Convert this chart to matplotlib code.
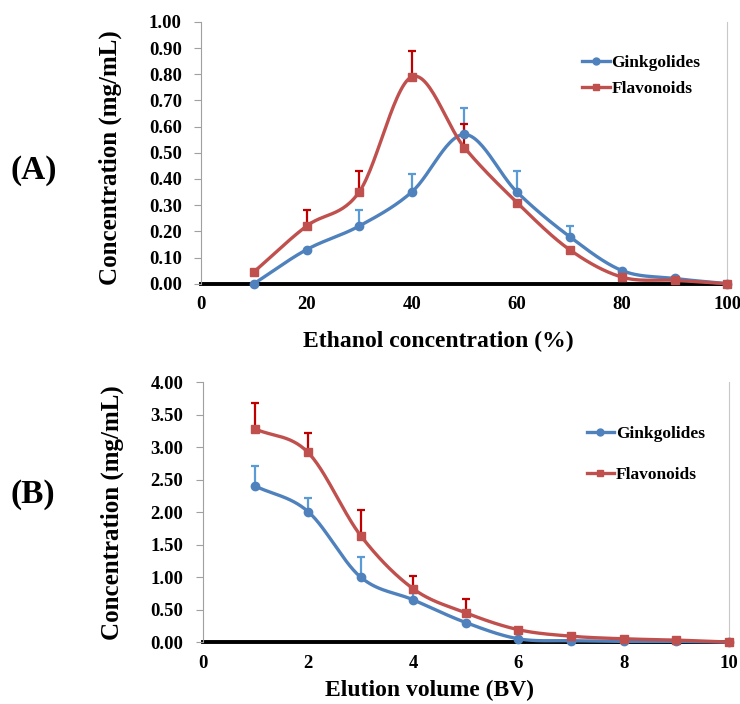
import numpy as np
import matplotlib.pyplot as plt

plt.rcParams['font.family'] = ['Liberation Serif', 'DejaVu Serif']
plt.rcParams['font.weight'] = 'bold'

# Panel A data
ethanol = [10, 20, 30, 40, 50, 60, 70, 80, 90, 100]
gink_a = [0.00, 0.13, 0.22, 0.35, 0.57, 0.35, 0.18, 0.05, 0.02, 0.00]
gink_a_err = [0.00, 0.00, 0.06, 0.07, 0.10, 0.08, 0.04, 0.00, 0.00, 0.00]
flav_a = [0.045, 0.22, 0.35, 0.79, 0.52, 0.31, 0.13, 0.025, 0.013, 0.00]
flav_a_err = [0.00, 0.06, 0.08, 0.10, 0.09, 0.00, 0.00, 0.00, 0.00, 0.00]

# Panel B data
bv = [1, 2, 3, 4, 5, 6, 7, 8, 9, 10]
gink_b = [2.40, 2.01, 1.00, 0.65, 0.30, 0.05, 0.02, 0.01, 0.01, 0.00]
gink_b_err = [0.31, 0.21, 0.31, 0.10, 0.00, 0.00, 0.00, 0.00, 0.00, 0.00]
flav_b = [3.28, 2.92, 1.64, 0.82, 0.45, 0.19, 0.09, 0.05, 0.03, 0.00]
flav_b_err = [0.40, 0.30, 0.40, 0.19, 0.21, 0.00, 0.00, 0.00, 0.00, 0.00]

BLUE = '#4F81BD'
RED = '#C0504D'
BLUE_ERR = '#5B9BD5'
RED_ERR = '#C00000'


def suave(x, y, n=30):
    # curva suavizada tipo Excel (Catmull-Rom)
    x = np.asarray(x, float)
    y = np.asarray(y, float)
    px = np.concatenate([[2 * x[0] - x[1]], x, [2 * x[-1] - x[-2]]])
    py = np.concatenate([[2 * y[0] - y[1]], y, [2 * y[-1] - y[-2]]])
    xs, ys = [], []
    t = np.linspace(0, 1, n)
    for i in range(1, len(px) - 2):
        for p, out in ((px, xs), (py, ys)):
            p0, p1, p2, p3 = p[i - 1], p[i], p[i + 1], p[i + 2]
            out.append(0.5 * (2 * p1 + (-p0 + p2) * t
                              + (2 * p0 - 5 * p1 + 4 * p2 - p3) * t**2
                              + (-p0 + 3 * p1 - 3 * p2 + p3) * t**3))
    return np.concatenate(xs), np.concatenate(ys)


def panel(ax, x, g, ge, f, fe, ymax, ystep, xmax, xstep, xlabel, xlab_pos,
          ylab_y, leg_anchor, leg_space):
    for y, e, col, ecol, mk, lab in [(g, ge, BLUE, BLUE_ERR, 'o', 'Ginkgolides'),
                                     (f, fe, RED, RED_ERR, 's', 'Flavonoids')]:
        e = np.asarray(e)
        y = np.asarray(y)
        xx = np.asarray(x)
        m = e > 0
        ax.errorbar(xx[m], y[m], yerr=[np.zeros(m.sum()), e[m]], fmt='none',
                    ecolor=ecol, elinewidth=1.6, capsize=3, capthick=1.6, zorder=2)
        sx, sy = suave(x, y)
        ax.plot(sx, sy, color=col, lw=2.4, zorder=3, clip_on=False)
        ax.plot(x, y, mk, color=col, ms=6, zorder=4, clip_on=False)
        ax.plot([], [], '-' + mk, color=col, lw=2.4, ms=5, label=lab)
    ax.set_xlim(0, xmax)
    ax.set_ylim(0, ymax)
    ax.set_xticks(np.arange(0, xmax + 0.1, xstep))
    ax.set_yticks(np.arange(0, ymax + 1e-9, ystep))
    ax.set_yticklabels(['%.2f' % v for v in np.arange(0, ymax + 1e-9, ystep)])
    ax.tick_params(axis='x', length=0, pad=9, labelsize=13.5)
    ax.tick_params(axis='y', length=5, color='#A0A0A0', pad=9, labelsize=13.5)
    for lab in ax.get_xticklabels() + ax.get_yticklabels():
        lab.set_fontweight('bold')
    ax.spines['top'].set_visible(False)
    ax.spines['left'].set_color('#A0A0A0')
    ax.spines['right'].set_color('#C8C8C8')
    ax.spines['bottom'].set_linewidth(2.8)
    ax.spines['bottom'].set_zorder(1)
    ax.set_xlabel(xlabel, fontsize=17, fontweight='bold')
    ax.xaxis.set_label_coords(xlab_pos[0], xlab_pos[1])
    ax.set_ylabel('Concentration (mg/mL)', fontsize=18, fontweight='bold')
    ax.yaxis.set_label_coords(-0.15, ylab_y)
    ax.legend(loc='upper right', bbox_to_anchor=leg_anchor, frameon=False,
              prop={'weight': 'bold', 'size': 12.5}, handlelength=1.6,
              handletextpad=0.1, labelspacing=leg_space, borderaxespad=0)


fig = plt.figure(figsize=(7.4, 7.04), dpi=100)
ax1 = fig.add_axes([0.272, 0.597, 0.711, 0.372])
ax2 = fig.add_axes([0.274, 0.088, 0.711, 0.369])

panel(ax1, ethanol, gink_a, gink_a_err, flav_a, flav_a_err, 1.0, 0.1, 100, 20,
      'Ethanol concentration (%)', (0.45, -0.18), 0.48, (0.962, 0.9), 0.55)
panel(ax2, bv, gink_b, gink_b_err, flav_b, flav_b_err, 4.0, 0.5, 10, 2,
      'Elution volume (BV)', (0.43, -0.145), 0.5, (0.968, 0.86), 1.45)

fig.text(0.045, 0.758, '(A)', fontsize=24, fontweight='bold', ha='center', va='center')
fig.text(0.045, 0.297, '(B)', fontsize=24, fontweight='bold', ha='center', va='center')

fig.savefig('out.png', dpi=100)
